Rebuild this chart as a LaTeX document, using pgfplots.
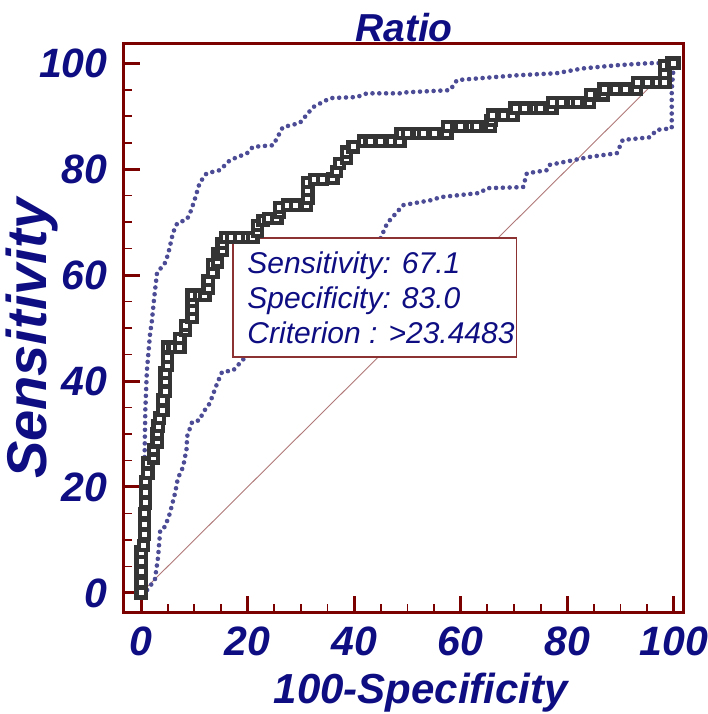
\documentclass[border=0pt]{standalone}
\usepackage{pgfplots}
\pgfplotsset{compat=1.18}
\usepackage{fontspec}
\setmainfont{Liberation Sans}
\definecolor{frame}{RGB}{123,0,0}
\definecolor{navy}{RGB}{14,14,130}
\definecolor{ci}{RGB}{76,76,150}
\definecolor{diag}{RGB}{176,120,120}
\definecolor{roc}{RGB}{52,52,52}
\begin{document}
\begin{tikzpicture}
\begin{axis}[
  at={(0pt,0pt)}, anchor=south west,
  scale only axis, width=280pt, height=284.5pt,
  xmin=-3.2, xmax=101.9, ymin=-3.6, ymax=103.8,
  xtick={0,20,40,60,80,100}, ytick={0,20,40,60,80,100},
  minor tick num=3,
  tick pos=left, tick align=inside,
  axis line style={draw=frame, line width=1.5pt},
  every tick/.style={draw=frame},
  major tick length=8pt, minor tick length=4pt,
  every major tick/.append style={line width=1.5pt},
  every minor tick/.append style={line width=0.9pt},
  /pgf/number format/assume math mode=true,
  ticklabel style={font=\fontsize{20.5}{24}\selectfont\bfseries\itshape, text=navy},
  yticklabel style={anchor=east, inner sep=0pt, xshift=-8pt},
  xticklabel style={anchor=north, inner sep=0pt, yshift=-7pt},
  title={Ratio},
  title style={at={(axis description cs:0.5,1)}, anchor=base, yshift=-5pt, font=\fontsize{19.5}{23}\selectfont\bfseries\itshape, text=navy},
  xlabel={100-Specificity},
  xlabel style={at={(axis description cs:0.53,-0.16)}, anchor=base, font=\fontsize{21}{25}\selectfont\bfseries\itshape, text=navy},
  ylabel={Sensitivity},
  ylabel style={at={(axis description cs:-0.165,0.48)}, anchor=center, rotate=0, font=\fontsize{28}{32}\selectfont\bfseries\itshape, text=navy},
  clip=false,
]
% diagonal
\addplot[diag, line width=0.45pt] coordinates {(0,0) (100,100)};
% upper CI
\addplot[ci, line width=2.3pt, line cap=round, dash pattern=on 0pt off 3.4pt] coordinates {
(0,0) (0.3,5) (0.5,12) (0.6,20) (0.7,28) (0.8,34.5) (1.1,42) (1.7,49) (2.0,51) (2.5,56) (3.0,60.4) (4.5,62.3) (5.1,64) (6,68) (6.8,69.8) (8.6,70.5) (9.2,71.7) (10,74) (11,77.4) (12.3,79.2) (14.8,79.8) (16.7,81.7) (19.9,83) (21,84.2) (24.8,84.5) (26.6,87.9) (29.8,88.7) (32.3,91.7) (35.5,93.4) (40.5,93.6) (42.4,94.3) (48.6,94.3) (49.9,94.5) (58,94.9) (59.3,96.8) (70.5,97.7) (78,98.1) (82.9,99) (89.3,99.6) (95.5,100) (100,100)};
% lower CI
\addplot[ci, line width=2.3pt, line cap=round, dash pattern=on 0pt off 3.4pt] coordinates {
(0,0) (1.1,0.5) (2.6,2.5) (3.2,6.8) (3.6,11.9) (4.5,12.5) (5.4,15) (6.4,18.9) (6.9,21.6) (7.9,23.8) (8.6,27.5) (8.6,29.4) (9.6,32.3) (11,32.6) (11.6,34) (12.9,35.8) (14.3,39.6) (15.2,41.7) (17.3,42) (19.1,44) (25,50) (30,54) (35,58) (40,62) (44.8,66.6) (46.2,69.8) (49.2,73.2) (54.8,74.2) (56.1,74.7) (63.6,75.5) (64.9,76.4) (71.7,76.6) (72.4,79.2) (76.2,79.8) (76.7,80.8) (84.2,82.3) (89.3,83) (90.4,85.5) (95.5,86) (96.8,87.4) (99.6,87.7) (99.6,95) (100,100)};
% ROC
\addplot[roc, line width=3pt, line join=miter, mark=square*, mark size=2.3pt, mark options={fill=white, draw=roc, line width=2.1pt}] coordinates {
(0,0) (0,2) (0,4) (0,6) (0,7.7) (0.5,9) (0.6,11) (0.7,13) (0.7,15) (0.8,17) (0.8,19) (0.8,21) (1.3,22.5) (1.3,24.5) (2.3,25.5) (2.3,27) (3.0,28.5) (3.0,30) (3.2,31.5) (3.5,33) (4.1,34.5) (4.1,36.4) (4.5,38) (4.5,40) (4.5,41.5) (5,43) (5,44.5) (5,46.4) (6,46.4) (7.3,46.4) (7.3,48) (8.3,49.5) (8.3,50.5) (9.6,52) (9.6,53.5) (9.6,55) (9.6,56.2) (11,56.2) (12,56.2) (12.6,57.5) (12.6,59) (13.5,60.5) (13.5,62) (14.3,62.5) (14.3,64) (15.2,64.7) (15.2,66) (15.8,67.1) (17,67.1) (18.5,67.1) (20,67.1) (21,67.1) (21.8,68.3) (21.8,69.3) (22.9,70.3) (24,70.7) (25.5,70.7) (26,71.8) (26,72.8) (27.5,73.2) (29,73.2) (31,73.2) (31.3,74.5) (31.3,76) (31.3,77.5) (32.5,78) (34,78) (36,78.2) (36.7,79.6) (37.3,81) (38.6,82) (38.6,83.2) (39.8,84.2) (41.7,85.3) (43,85.3) (45,85.3) (47,85.3) (48.6,85.3) (48.8,86.7) (50,86.7) (52,86.7) (53,86.7) (55,86.7) (57.4,86.7) (57.6,88) (60,88) (62,88) (63,88) (65.5,88) (65.7,89.2) (66,90.2) (68,90.2) (69.8,90.2) (70.2,91.5) (72,91.5) (74,91.5) (75,91.5) (77.1,91.5) (77.3,92.6) (79,92.6) (81,92.6) (82,92.6) (84.2,92.6) (84.4,94.0) (86.7,94.0) (86.9,95.1) (89,95.1) (91,95.1) (93,95.1) (93.2,96.4) (95,96.4) (97,96.4) (98.3,96.4) (98.3,98) (98.3,99.5) (99.5,100) (100,100)};
% criterion box
\draw[draw={rgb,255:red,140;green,50;blue,50}, line width=0.8pt, fill=white] (axis cs:17.3,44.5) rectangle (axis cs:70.5,67);
\node[anchor=west, align=left, text=navy, font=\fontsize{15}{17.5}\selectfont\itshape, inner sep=0pt] at (axis cs:19.9,55.7) {Sensitivity: 67.1\\Specificity: 83.0\\Criterion : >23.4483};
\end{axis}
\pgfresetboundingbox
\path (-62pt,-51pt) rectangle (292pt,306pt);
\end{tikzpicture}
\end{document}
